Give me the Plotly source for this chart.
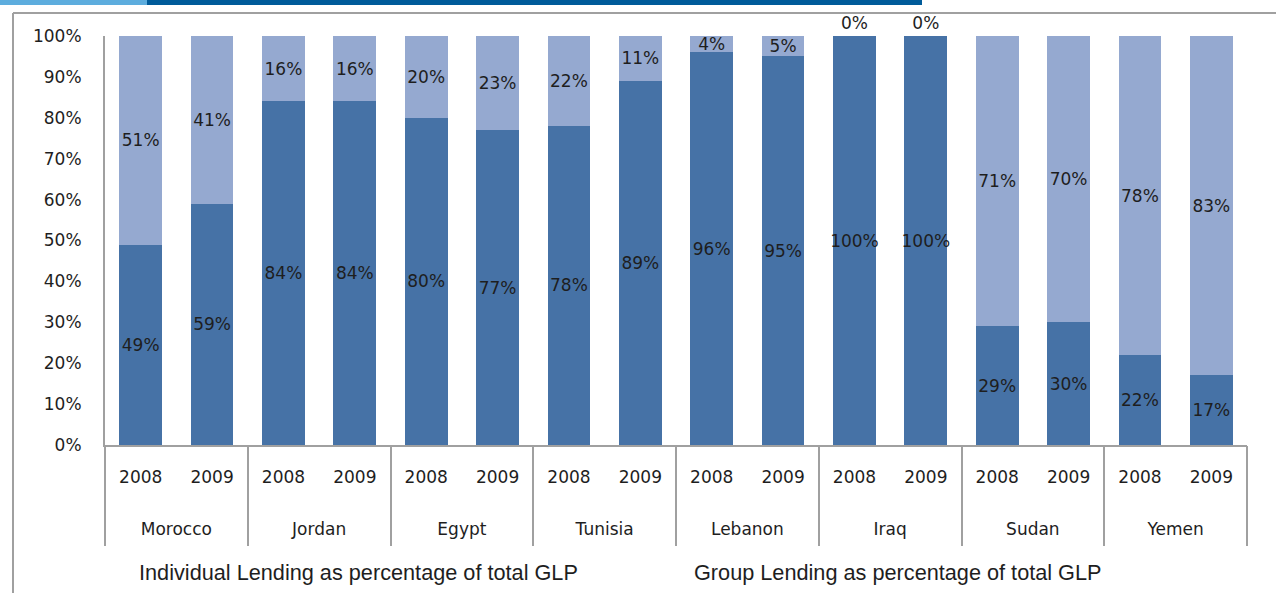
import plotly.graph_objects as go

countries = ["Morocco", "Jordan", "Egypt", "Tunisia", "Lebanon", "Iraq", "Sudan", "Yemen"]
years = ["2008", "2009"]

individual = [49, 59, 84, 84, 80, 77, 78, 89, 96, 95, 100, 100, 29, 30, 22, 17]
group = [51, 41, 16, 16, 20, 23, 22, 11, 4, 5, 0, 0, 71, 70, 78, 83]

legend_labels = ["Individual Lending as percentage of total GLP",
                 "Group Lending as percentage of total GLP"]

DARK = "#4672A6"
LIGHT = "#95A9D0"
TXT = "#1E1E1E"
GRID = "#A0A0A0"
FONT = "DejaVu Sans"

# one category per country/year bar, labelled with the year only
bar_keys = [f"{c} {y}" for c in countries for y in years]
bar_years = [y for _ in countries for y in years]
country_pos = [i + 0.5 for i in range(len(countries))]

W, H = 1276, 593
ML, MR, MT, MB = 105, 29, 36, 148
PW, PH = W - ML - MR, H - MT - MB


def px(x):
    return (x - ML) / PW


def py(y):
    return (H - MB - y) / PH


fig = go.Figure()
fig.add_trace(go.Bar(
    x=bar_keys, y=individual, name=legend_labels[0],
    marker=dict(color=DARK, line=dict(width=0)),
    text=[f"{v}%" for v in individual], texttemplate="%{text}",
    textposition="inside", insidetextanchor="middle",
    textangle=0, constraintext="none",
    textfont=dict(family=FONT, size=17, color=TXT),
    showlegend=False, hoverinfo="skip",
))
fig.add_trace(go.Bar(
    x=bar_keys, y=group, name=legend_labels[1],
    marker=dict(color=LIGHT, line=dict(width=0)),
    text=[f"{v}%" for v in group], texttemplate="%{text}",
    textposition=["outside" if v == 0 else "inside" for v in group],
    insidetextanchor="middle", textangle=0, constraintext="none",
    cliponaxis=False,
    textfont=dict(family=FONT, size=17, color=TXT),
    showlegend=False, hoverinfo="skip",
))
# empty carrier so the country axis (x2) is rendered
fig.add_trace(go.Scatter(
    x=country_pos, y=[None] * len(countries), xaxis="x2", yaxis="y",
    mode="markers", showlegend=False, hoverinfo="skip",
))

shapes = [
    # header strips
    dict(type="rect", xref="paper", yref="paper", x0=px(0), x1=px(147), y0=py(0), y1=py(5),
         fillcolor="#5DADDE", line=dict(width=0), layer="above"),
    dict(type="rect", xref="paper", yref="paper", x0=px(147), x1=px(922), y0=py(0), y1=py(5),
         fillcolor="#005B9A", line=dict(width=0), layer="above"),
    # outer frame
    dict(type="line", xref="paper", yref="paper", x0=px(13), x1=px(W), y0=py(13), y1=py(13),
         line=dict(color=GRID, width=2)),
    dict(type="line", xref="paper", yref="paper", x0=px(13), x1=px(13), y0=py(13), y1=py(H),
         line=dict(color=GRID, width=2)),
]

annotations = [
    dict(text=legend_labels[0], xref="paper", yref="paper", x=px(137), y=py(572),
         xanchor="left", yanchor="middle", showarrow=False,
         font=dict(family="Liberation Sans", size=21.7, color=TXT)),
    dict(text=legend_labels[1], xref="paper", yref="paper", x=px(692), y=py(572),
         xanchor="left", yanchor="middle", showarrow=False,
         font=dict(family="Liberation Sans", size=21.7, color=TXT)),
]

fig.update_layout(
    width=W, height=H,
    margin=dict(l=ML, r=MR, t=MT, b=MB, pad=0),
    barmode="stack", bargap=0.4,
    plot_bgcolor="white", paper_bgcolor="white",
    shapes=shapes, annotations=annotations,
    font=dict(family=FONT, size=17, color=TXT),
    xaxis=dict(
        type="category", categoryorder="array", categoryarray=bar_keys,
        tickmode="array", tickvals=bar_keys, ticktext=bar_years,
        showline=True, linecolor=GRID, linewidth=2, ticks="", showgrid=False,
        tickfont=dict(family=FONT, size=17, color=TXT), ticklabelstandoff=16,
    ),
    # country row: labels centred on each pair, dividers at pair boundaries
    xaxis2=dict(
        overlaying="x", anchor="y", side="bottom", type="linear",
        range=[0, len(countries)], showgrid=False, zeroline=False, showline=False,
        tickmode="array", tickvals=country_pos,
        ticktext=countries, ticks="",
        tickfont=dict(family=FONT, size=17, color=TXT), ticklabelstandoff=72,
        minor=dict(tickmode="array", tickvals=list(range(len(countries) + 1)),
                   ticks="outside", ticklen=100, tickwidth=2, tickcolor=GRID,
                   showgrid=False),
    ),
    yaxis=dict(
        range=[0, 100], dtick=10, ticksuffix="%", showline=True, linecolor=GRID,
        linewidth=2, showgrid=False, ticks="", zeroline=False,
        tickfont=dict(family=FONT, size=17, color=TXT), ticklabelstandoff=18,
    ),
)

fig.write_html("out.html")
